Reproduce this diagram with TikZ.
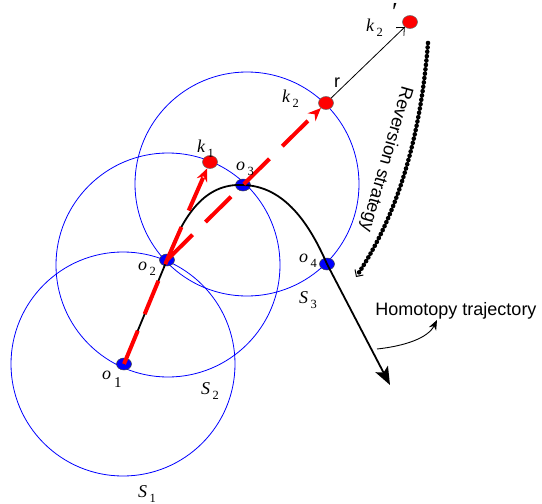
\documentclass[tikz,border=0pt]{standalone}
\usepackage{fontspec}
\setmainfont{Liberation Serif}
\newfontfamily\arialf{Liberation Sans}
\usetikzlibrary{arrows.meta,shapes.geometric}
\newcommand\ptlab[2]{{\fontsize{18}{20}\selectfont\itshape #1}\kern2.5pt\raisebox{-5pt}{\fontsize{12.5}{14}\selectfont #2}}
\begin{document}
\begin{tikzpicture}[x=1pt,y=-1pt,
  circ/.style={draw=blue,line width=0.8pt},
  bdot/.style={ellipse,draw=black!75,line width=0.5pt,fill=blue,minimum width=15pt,minimum height=12pt,inner sep=0pt},
  rdot/.style={ellipse,draw=black!60,line width=0.5pt,fill=red,minimum width=15pt,minimum height=13pt,inner sep=0pt},
  redline/.style={draw=red,line width=4pt,dash pattern=on 36pt off 18pt},
  traj/.style={draw=black,line width=1.8pt},
  lab/.style={inner sep=0pt,anchor=base west},
  sans/.style={inner sep=0pt,font=\arialf\fontsize{18}{20}\selectfont}
]
\useasboundingbox (0,0) rectangle (542,504);
% circles
\draw[circ] (123,364) circle[radius=112pt];
\draw[circ] (168,265) circle[radius=112pt];
\draw[circ] (247,184) circle[radius=112pt];
% blue points
\node[bdot] (o1) at (124,364) {};
\node[bdot] (o2) at (167,260) {};
\node[bdot] (o3) at (243,185) {};
\node[bdot] (o4) at (327,264) {};
% trajectory
\coordinate (tend) at (390,385);
\draw[traj,-{Stealth[length=18pt,width=14pt,inset=4pt]}] (o1.center) -- (o2.center)
  .. controls (183,215) and (205,183) .. (o3.center)
  .. controls (285,186) and (310,225) .. (o4.center) -- (tend);
% red points
\node[rdot] (k1) at (210,162) {};
\node[rdot] (k2) at (326,103) {};
\node[rdot] (k2p) at (410,22) {};
% red dashed arrows
\draw[redline] (o1.center) -- (o2.center);
\draw[redline,-{Stealth[length=13pt,width=11pt]}] (o2.center) -- (k1);
\draw[redline,-{Stealth[length=13pt,width=11pt]}] (o2.center) -- (k2);
% r arrow
\draw[line width=0.8pt,-{Straight Barb[length=6pt,width=11pt]}] (k2) -- (k2p);
% reversion strategy
\coordinate (rs) at (428,43);
\coordinate (re) at (356,277);
\draw[line width=4.6pt,line cap=round,dash pattern=on 0pt off 4.4pt,-{Straight Barb[length=5pt,width=10pt,line width=1pt]}] (rs) .. controls (421,130) and (401,210) .. (re);
% homotopy arrow
\coordinate (hs) at (377,349);
\coordinate (he) at (437,320);
\draw[line width=0.9pt,-{Stealth[length=10pt,width=8pt]}] (hs) .. controls (405,346) and (428,338) .. (he);
% labels
\node[lab] (lo1) at (102,379) {{\fontsize{18}{20}\selectfont\itshape o}\kern3pt\raisebox{-8pt}{\fontsize{15}{16}\selectfont 1}};
\node[lab] (lo2) at (138,270) {\ptlab{o}{2}};
\node[lab] (lo3) at (236,170) {\ptlab{o}{3}};
\node[lab] (lo4) at (299,262) {\ptlab{o}{4}};
\node[lab] (lk1) at (197,152) {\ptlab{k}{1}};
\node[lab] (lk2) at (282,102) {\ptlab{k}{2}};
\node[lab] (lk2p) at (366,31) {\ptlab{k}{2}};
\node[inner sep=0pt,font=\fontsize{26}{26}\selectfont] (lpr) at (395,12) {\char"2032};
\node[lab] (ls1) at (138,497) {\ptlab{S}{1}};
\node[lab] (ls2) at (201,394) {\ptlab{S}{2}};
\node[lab] (ls3) at (299,303) {\ptlab{S}{3}};
\node[sans,anchor=base west] (lr) at (334,87) {r};
\node[sans] (lh) at (456,311) {Homotopy trajectory};
\node[sans,rotate=-106] (lrv) at (386,159) {Reversion strategy};
\end{tikzpicture}
\end{document}
